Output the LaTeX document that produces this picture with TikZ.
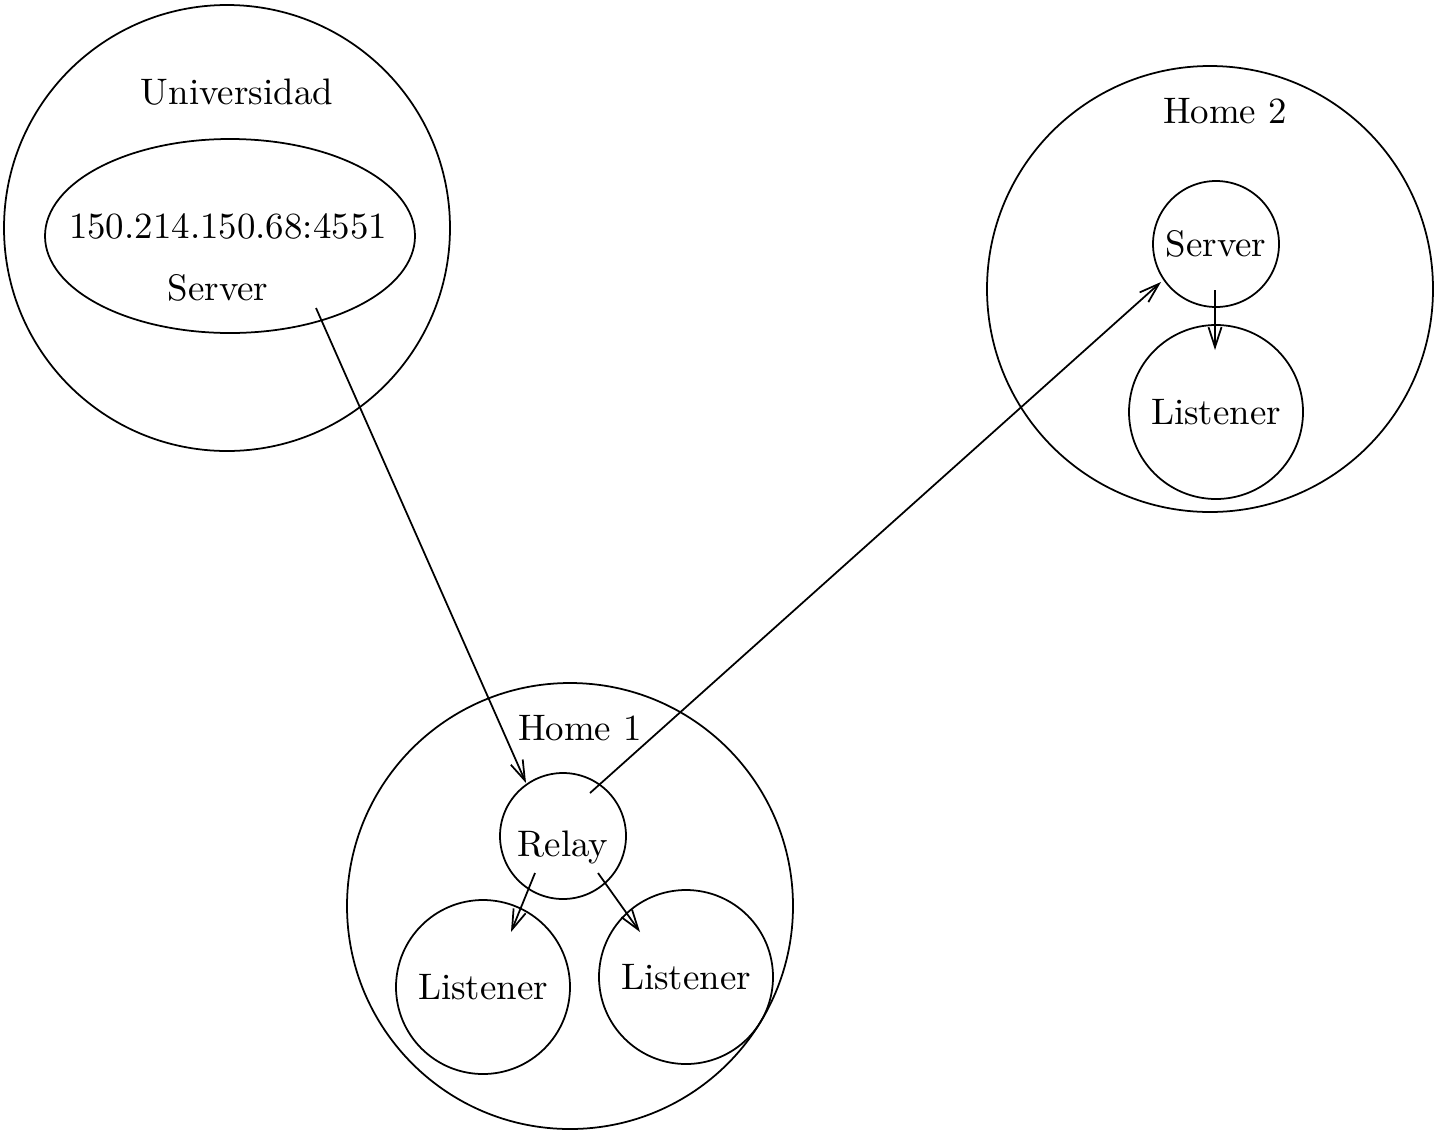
\documentclass[tikz,border=0pt]{standalone}
\usepackage{tikz}
\usetikzlibrary{arrows.meta, shapes.geometric}

\begin{document}
\begin{tikzpicture}[
    site/.style={draw, circle, minimum size=4.46cm, inner sep=0pt},
    small/.style={draw, circle, minimum size=1.26cm, inner sep=0pt},
    big/.style={draw, circle, minimum size=1.74cm, inner sep=0pt},
    link/.style={-{Straight Barb[length=2mm, width=1.3mm]}},
    font=\fontsize{10.5}{12.6}\selectfont,
    line width=0.5pt]
    \useasboundingbox (0,0) rectangle (14.38,11.33);
    % sites
    \node[site] (uni) at (2.27,9.05) {};
    \node[site] (home2) at (12.10,8.44) {};
    \node[site] (home1) at (5.70,2.27) {};
    \node (unilab) at (2.37,10.41) {Universidad};
    \node (home2lab) at (12.25,10.22) {Home 2};
    \node (home1lab) at (5.80,4.05) {Home 1};
    % university server
    \node[draw, ellipse, minimum width=3.70cm, minimum height=1.94cm, inner sep=0pt] (srv1) at (2.30,8.97) {};
    \node (ip) at (2.28,9.07) {150.214.150.68:4551};
    \node (srv1lab) at (2.18,8.45) {Server};
    % home 2
    \node[small] (srv2) at (12.16,8.89) {Server};
    \node[big] (lst2) at (12.16,7.21) {Listener};
    % home 1
    \node[small] (relay) at (5.63,2.97) {};
    \node (relaylab) at (5.63,2.86) {Relay};
    \node[big] (lstA) at (4.83,1.46) {Listener};
    \node[big] (lstB) at (6.86,1.56) {Listener};
    % arrows
    \draw[link] ([shift={(0.86,-0.72)}]srv1.center) -- ([shift={(-0.37,0.53)}]relay.center);
    \draw[link] ([shift={(0.27,0.43)}]relay.center) -- ([shift={(-0.55,-0.38)}]srv2.center);
    \draw[link] ([shift={(-0.01,-0.46)}]srv2.center) -- ([shift={(-0.01,0.62)}]lst2.center);
    \draw[link] ([shift={(-0.28,-0.37)}]relay.center) -- ([shift={(0.28,0.55)}]lstA.center);
    \draw[link] ([shift={(0.35,-0.37)}]relay.center) -- ([shift={(-0.46,0.45)}]lstB.center);
\end{tikzpicture}
\end{document}
